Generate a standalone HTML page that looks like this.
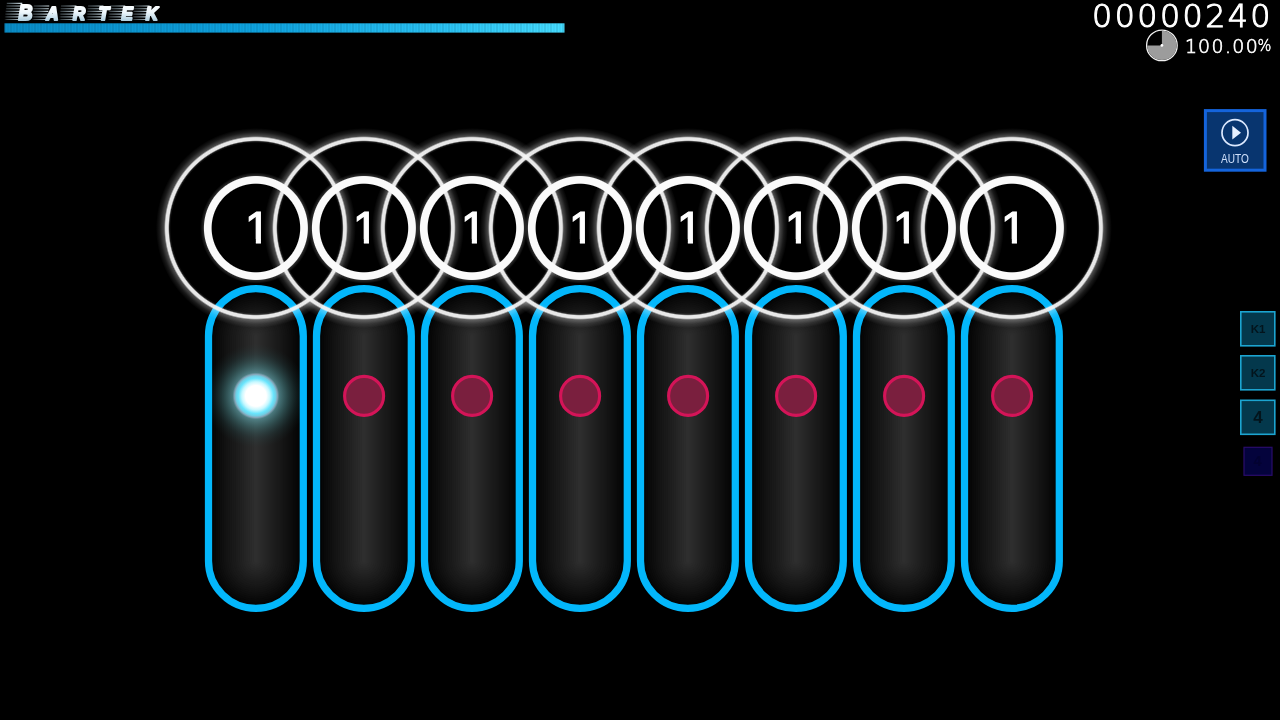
<!DOCTYPE html>
<html lang="en"><head><meta charset="utf-8"><title>osu! - Bartek</title>
<style>
html,body{margin:0;padding:0;background:#000;}
body{width:1280px;height:720px;overflow:hidden;position:relative;font-family:"Liberation Sans",sans-serif;}
svg{position:absolute;left:0;top:0;will-change:transform;}
text{font-family:"Liberation Sans",sans-serif;}
.score{font-family:"DejaVu Sans Light","DejaVu Sans","Liberation Sans",sans-serif;font-weight:200;fill:#fff;stroke:#fff;}
.num{font-family:"Liberation Sans",sans-serif;fill:#fff;stroke:#fff;stroke-width:1.2px;stroke-linejoin:miter;}
.logo{font-family:"Liberation Sans",sans-serif;font-weight:bold;font-style:italic;}
.key{font-family:"Liberation Sans",sans-serif;font-weight:bold;fill:#03141c;}
.auto{font-family:"Liberation Sans",sans-serif;fill:#cfe0fb;}
</style></head><body>
<svg width="1280" height="720" viewBox="0 0 1280 720">
<defs>
<linearGradient id="hp" x1="0" y1="0" x2="1" y2="0"><stop offset="0" stop-color="#0a8cc6"/><stop offset="0.45" stop-color="#0ea2de"/><stop offset="0.8" stop-color="#2cc4f4"/><stop offset="1" stop-color="#46dcff"/></linearGradient>
<pattern id="seg" x="4.5" y="0" width="6" height="12" patternUnits="userSpaceOnUse"><rect x="0" y="0" width="1" height="12" fill="#002840" fill-opacity="0.22"/><rect x="3" y="0" width="1" height="12" fill="#002840" fill-opacity="0.1"/></pattern>
<linearGradient id="lg" x1="0" y1="-17" x2="0" y2="0.6" gradientUnits="userSpaceOnUse"><stop offset="0" stop-color="#ffffff"/><stop offset="0.55" stop-color="#eef7fc"/><stop offset="1" stop-color="#b4d2e2"/></linearGradient>
<linearGradient id="st" x1="0" y1="0" x2="1" y2="0"><stop offset="0" stop-color="#bfe0f0" stop-opacity="0"/><stop offset="0.15" stop-color="#c8e6f4" stop-opacity="0.3"/><stop offset="0.6" stop-color="#d4ecf8" stop-opacity="0.6"/><stop offset="1" stop-color="#e8f6fc" stop-opacity="0.95"/></linearGradient>
<radialGradient id="ac" gradientUnits="userSpaceOnUse" cx="0" cy="0" r="100">
<stop offset="0.85" stop-color="#fff" stop-opacity="0"/><stop offset="0.864" stop-color="#fff" stop-opacity="0.1"/><stop offset="0.877" stop-color="#f4f4f4" stop-opacity="0.95"/><stop offset="0.903" stop-color="#f4f4f4" stop-opacity="0.95"/><stop offset="0.918" stop-color="#fff" stop-opacity="0.3"/><stop offset="0.96" stop-color="#fff" stop-opacity="0.1"/><stop offset="1" stop-color="#fff" stop-opacity="0"/></radialGradient>
<radialGradient id="hc" gradientUnits="userSpaceOnUse" cx="0" cy="0" r="57">
<stop offset="0.768" stop-color="#fff" stop-opacity="0"/><stop offset="0.786" stop-color="#fafafa" stop-opacity="1"/><stop offset="0.903" stop-color="#fafafa" stop-opacity="1"/><stop offset="0.921" stop-color="#fff" stop-opacity="0.16"/><stop offset="0.975" stop-color="#fff" stop-opacity="0"/></radialGradient>
<radialGradient id="ball"><stop offset="0" stop-color="#ffffff"/><stop offset="0.2" stop-color="#ffffff"/><stop offset="0.27" stop-color="#c8f8ff"/><stop offset="0.34" stop-color="#68e4fc"/><stop offset="0.385" stop-color="#74d4ea" stop-opacity="0.96"/><stop offset="0.415" stop-color="#9cc4dc" stop-opacity="0.8"/><stop offset="0.45" stop-color="#68b4bc" stop-opacity="0.6"/><stop offset="0.6" stop-color="#4c9498" stop-opacity="0.42"/><stop offset="0.8" stop-color="#306468" stop-opacity="0.19"/><stop offset="1" stop-color="#204040" stop-opacity="0"/></radialGradient>
<clipPath id="one"><path d="M-6-40H30V-4.3H15.85V3H10.75V-4.3H-6Z"/></clipPath>
</defs>

<g stroke-linecap="round" fill="none">
<path d="M255.9 335.9V561.0M363.9 335.9V561.0M471.9 335.9V561.0M579.9 335.9V561.0M687.9 335.9V561.0M795.9 335.9V561.0M903.9 335.9V561.0M1011.9 335.9V561.0" stroke="#050505" stroke-width="88"/>
<path d="M255.9 335.9V561.0M363.9 335.9V561.0M471.9 335.9V561.0M579.9 335.9V561.0M687.9 335.9V561.0M795.9 335.9V561.0M903.9 335.9V561.0M1011.9 335.9V561.0" stroke="#070707" stroke-width="84"/>
<path d="M255.9 335.9V561.0M363.9 335.9V561.0M471.9 335.9V561.0M579.9 335.9V561.0M687.9 335.9V561.0M795.9 335.9V561.0M903.9 335.9V561.0M1011.9 335.9V561.0" stroke="#090909" stroke-width="80"/>
<path d="M255.9 335.9V561.0M363.9 335.9V561.0M471.9 335.9V561.0M579.9 335.9V561.0M687.9 335.9V561.0M795.9 335.9V561.0M903.9 335.9V561.0M1011.9 335.9V561.0" stroke="#0b0b0b" stroke-width="76"/>
<path d="M255.9 335.9V561.0M363.9 335.9V561.0M471.9 335.9V561.0M579.9 335.9V561.0M687.9 335.9V561.0M795.9 335.9V561.0M903.9 335.9V561.0M1011.9 335.9V561.0" stroke="#0d0d0d" stroke-width="72"/>
<path d="M255.9 335.9V561.0M363.9 335.9V561.0M471.9 335.9V561.0M579.9 335.9V561.0M687.9 335.9V561.0M795.9 335.9V561.0M903.9 335.9V561.0M1011.9 335.9V561.0" stroke="#0f0f0f" stroke-width="68"/>
<path d="M255.9 335.9V561.0M363.9 335.9V561.0M471.9 335.9V561.0M579.9 335.9V561.0M687.9 335.9V561.0M795.9 335.9V561.0M903.9 335.9V561.0M1011.9 335.9V561.0" stroke="#111111" stroke-width="64"/>
<path d="M255.9 335.9V561.0M363.9 335.9V561.0M471.9 335.9V561.0M579.9 335.9V561.0M687.9 335.9V561.0M795.9 335.9V561.0M903.9 335.9V561.0M1011.9 335.9V561.0" stroke="#131313" stroke-width="60"/>
<path d="M255.9 335.9V561.0M363.9 335.9V561.0M471.9 335.9V561.0M579.9 335.9V561.0M687.9 335.9V561.0M795.9 335.9V561.0M903.9 335.9V561.0M1011.9 335.9V561.0" stroke="#151515" stroke-width="56"/>
<path d="M255.9 335.9V561.0M363.9 335.9V561.0M471.9 335.9V561.0M579.9 335.9V561.0M687.9 335.9V561.0M795.9 335.9V561.0M903.9 335.9V561.0M1011.9 335.9V561.0" stroke="#171717" stroke-width="52"/>
<path d="M255.9 335.9V561.0M363.9 335.9V561.0M471.9 335.9V561.0M579.9 335.9V561.0M687.9 335.9V561.0M795.9 335.9V561.0M903.9 335.9V561.0M1011.9 335.9V561.0" stroke="#191919" stroke-width="48"/>
<path d="M255.9 335.9V561.0M363.9 335.9V561.0M471.9 335.9V561.0M579.9 335.9V561.0M687.9 335.9V561.0M795.9 335.9V561.0M903.9 335.9V561.0M1011.9 335.9V561.0" stroke="#1a1a1a" stroke-width="44"/>
<path d="M255.9 335.9V561.0M363.9 335.9V561.0M471.9 335.9V561.0M579.9 335.9V561.0M687.9 335.9V561.0M795.9 335.9V561.0M903.9 335.9V561.0M1011.9 335.9V561.0" stroke="#1c1c1c" stroke-width="40"/>
<path d="M255.9 335.9V561.0M363.9 335.9V561.0M471.9 335.9V561.0M579.9 335.9V561.0M687.9 335.9V561.0M795.9 335.9V561.0M903.9 335.9V561.0M1011.9 335.9V561.0" stroke="#1e1e1e" stroke-width="36"/>
<path d="M255.9 335.9V561.0M363.9 335.9V561.0M471.9 335.9V561.0M579.9 335.9V561.0M687.9 335.9V561.0M795.9 335.9V561.0M903.9 335.9V561.0M1011.9 335.9V561.0" stroke="#202020" stroke-width="32"/>
<path d="M255.9 335.9V561.0M363.9 335.9V561.0M471.9 335.9V561.0M579.9 335.9V561.0M687.9 335.9V561.0M795.9 335.9V561.0M903.9 335.9V561.0M1011.9 335.9V561.0" stroke="#222222" stroke-width="28"/>
<path d="M255.9 335.9V561.0M363.9 335.9V561.0M471.9 335.9V561.0M579.9 335.9V561.0M687.9 335.9V561.0M795.9 335.9V561.0M903.9 335.9V561.0M1011.9 335.9V561.0" stroke="#242424" stroke-width="24"/>
<path d="M255.9 335.9V561.0M363.9 335.9V561.0M471.9 335.9V561.0M579.9 335.9V561.0M687.9 335.9V561.0M795.9 335.9V561.0M903.9 335.9V561.0M1011.9 335.9V561.0" stroke="#262626" stroke-width="20"/>
<path d="M255.9 335.9V561.0M363.9 335.9V561.0M471.9 335.9V561.0M579.9 335.9V561.0M687.9 335.9V561.0M795.9 335.9V561.0M903.9 335.9V561.0M1011.9 335.9V561.0" stroke="#282828" stroke-width="16"/>
<path d="M255.9 335.9V561.0M363.9 335.9V561.0M471.9 335.9V561.0M579.9 335.9V561.0M687.9 335.9V561.0M795.9 335.9V561.0M903.9 335.9V561.0M1011.9 335.9V561.0" stroke="#2a2a2a" stroke-width="12"/>
<path d="M255.9 335.9V561.0M363.9 335.9V561.0M471.9 335.9V561.0M579.9 335.9V561.0M687.9 335.9V561.0M795.9 335.9V561.0M903.9 335.9V561.0M1011.9 335.9V561.0" stroke="#2c2c2c" stroke-width="8"/>
<path d="M255.9 335.9V561.0M363.9 335.9V561.0M471.9 335.9V561.0M579.9 335.9V561.0M687.9 335.9V561.0M795.9 335.9V561.0M903.9 335.9V561.0M1011.9 335.9V561.0" stroke="#2e2e2e" stroke-width="4"/>
</g>
<circle cx="255.9" cy="395.9" r="52" fill="url(#ball)"/>
<circle cx="364.1" cy="395.9" r="19.5" fill="#7a1f3e" stroke="#d41458" stroke-width="3.1"/>
<circle cx="472.1" cy="395.9" r="19.5" fill="#7a1f3e" stroke="#d41458" stroke-width="3.1"/>
<circle cx="580.1" cy="395.9" r="19.5" fill="#7a1f3e" stroke="#d41458" stroke-width="3.1"/>
<circle cx="688.1" cy="395.9" r="19.5" fill="#7a1f3e" stroke="#d41458" stroke-width="3.1"/>
<circle cx="796.1" cy="395.9" r="19.5" fill="#7a1f3e" stroke="#d41458" stroke-width="3.1"/>
<circle cx="904.1" cy="395.9" r="19.5" fill="#7a1f3e" stroke="#d41458" stroke-width="3.1"/>
<circle cx="1012.1" cy="395.9" r="19.5" fill="#7a1f3e" stroke="#d41458" stroke-width="3.1"/>
<g fill="none" stroke="#03b7fb" stroke-width="7.25">
<rect x="208.5" y="288.5" width="94.8" height="319.9" rx="47.4"/>
<rect x="316.5" y="288.5" width="94.8" height="319.9" rx="47.4"/>
<rect x="424.5" y="288.5" width="94.8" height="319.9" rx="47.4"/>
<rect x="532.5" y="288.5" width="94.8" height="319.9" rx="47.4"/>
<rect x="640.5" y="288.5" width="94.8" height="319.9" rx="47.4"/>
<rect x="748.5" y="288.5" width="94.8" height="319.9" rx="47.4"/>
<rect x="856.5" y="288.5" width="94.8" height="319.9" rx="47.4"/>
<rect x="964.5" y="288.5" width="94.8" height="319.9" rx="47.4"/>
</g>
<circle transform="translate(255.9 228)" r="100" fill="url(#ac)"/>
<circle transform="translate(363.9 228)" r="100" fill="url(#ac)"/>
<circle transform="translate(471.9 228)" r="100" fill="url(#ac)"/>
<circle transform="translate(579.9 228)" r="100" fill="url(#ac)"/>
<circle transform="translate(687.9 228)" r="100" fill="url(#ac)"/>
<circle transform="translate(795.9 228)" r="100" fill="url(#ac)"/>
<circle transform="translate(903.9 228)" r="100" fill="url(#ac)"/>
<circle transform="translate(1011.9 228)" r="100" fill="url(#ac)"/>
<circle transform="translate(255.9 228)" r="57" fill="url(#hc)"/>
<circle transform="translate(363.9 228)" r="57" fill="url(#hc)"/>
<circle transform="translate(471.9 228)" r="57" fill="url(#hc)"/>
<circle transform="translate(579.9 228)" r="57" fill="url(#hc)"/>
<circle transform="translate(687.9 228)" r="57" fill="url(#hc)"/>
<circle transform="translate(795.9 228)" r="57" fill="url(#hc)"/>
<circle transform="translate(903.9 228)" r="57" fill="url(#hc)"/>
<circle transform="translate(1011.9 228)" r="57" fill="url(#hc)"/>
<g transform="translate(245.1 243.2)"><text class="num" font-size="45" clip-path="url(#one)">1</text></g>
<g transform="translate(353.1 243.2)"><text class="num" font-size="45" clip-path="url(#one)">1</text></g>
<g transform="translate(461.1 243.2)"><text class="num" font-size="45" clip-path="url(#one)">1</text></g>
<g transform="translate(569.1 243.2)"><text class="num" font-size="45" clip-path="url(#one)">1</text></g>
<g transform="translate(677.1 243.2)"><text class="num" font-size="45" clip-path="url(#one)">1</text></g>
<g transform="translate(785.1 243.2)"><text class="num" font-size="45" clip-path="url(#one)">1</text></g>
<g transform="translate(893.1 243.2)"><text class="num" font-size="45" clip-path="url(#one)">1</text></g>
<g transform="translate(1001.1 243.2)"><text class="num" font-size="45" clip-path="url(#one)">1</text></g>
<rect x="4.5" y="23.3" width="560" height="9.3" fill="url(#hp)"/><rect x="4.5" y="23.3" width="560" height="9.3" fill="url(#seg)"/>
<path d="M6.77 3.30H22.27M6.34 6.00H21.84M5.90 8.70H21.40M5.47 11.40H20.97M5.04 14.10H20.54M4.61 16.80H20.11M4.18 19.50H19.68" stroke="url(#st)" stroke-width="1.15" fill="none"/>
<path d="M33.74 6.00H49.24M33.30 8.70H48.80M32.87 11.40H48.37M32.44 14.10H47.94M32.01 16.80H47.51M31.58 19.50H47.08" stroke="url(#st)" stroke-width="1.15" fill="none"/>
<path d="M60.94 6.00H76.44M60.50 8.70H76.00M60.07 11.40H75.57M59.64 14.10H75.14M59.21 16.80H74.71M58.78 19.50H74.28" stroke="url(#st)" stroke-width="1.15" fill="none"/>
<path d="M87.94 6.00H103.44M87.50 8.70H103.00M87.07 11.40H102.57M86.64 14.10H102.14M86.21 16.80H101.71M85.78 19.50H101.28" stroke="url(#st)" stroke-width="1.15" fill="none"/>
<path d="M109.74 6.00H125.24M109.30 8.70H124.80M108.87 11.40H124.37M108.44 14.10H123.94M108.01 16.80H123.51M107.58 19.50H123.08" stroke="url(#st)" stroke-width="1.15" fill="none"/>
<path d="M134.14 6.00H149.64M133.70 8.70H149.20M133.27 11.40H148.77M132.84 14.10H148.34M132.41 16.80H147.91M131.98 19.50H147.48" stroke="url(#st)" stroke-width="1.15" fill="none"/>
<text class="logo" transform="translate(0,19.6) scale(0.9,1)" fill="url(#lg)" stroke="url(#lg)" stroke-width="2.2" stroke-linejoin="round"><tspan font-size="21.5" x="20.44">B</tspan><tspan font-size="18.7" x="51.44 81.00 109.78 134.89 162.00">ARTEK</tspan></text>
<text class="score" transform="translate(1092.1,27.05) scale(0.973,1)" font-size="32.6" letter-spacing="2.5" stroke-width="1.1">00000240</text>
<text class="score" transform="translate(1185.0,52.6) scale(0.987,1)" font-size="19.2" stroke-width="0.7" letter-spacing="1.45" x="0 13.14">100.00</text>
<text class="score" transform="translate(1257.6,51) scale(0.88,1)" font-size="16.6" stroke-width="0.5">%</text>
<circle cx="1161.9" cy="45.4" r="15.3" fill="#000" stroke="#f0f0f0" stroke-width="1.3"/>
<path d="M1161.9 45.4V30.7A14.7 14.7 0 1 1 1147.2 45.4Z" fill="#9c9c9c"/>
<circle cx="1161.9" cy="45.4" r="1.4" fill="#fff"/>
<rect x="1205.4" y="110.6" width="59.6" height="59.6" fill="#08356f" stroke="#1464dc" stroke-width="3"/>
<circle cx="1235" cy="132.7" r="13" fill="none" stroke="#dce9ff" stroke-width="1.7"/>
<path d="M1232.3 125.8L1241 132.7L1232.3 139.6Z" fill="#e6efff"/>
<text class="auto" transform="translate(1235,163) scale(0.8,1)" font-size="12.6" text-anchor="middle">AUTO</text>
<rect x="1240.8" y="311.8" width="34" height="34" fill="#04384c" stroke="#1ca4d0" stroke-width="1.6"/>
<text class="key" x="1258" y="333.2" font-size="11.5" text-anchor="middle">K1</text>
<rect x="1240.8" y="355.8" width="34" height="34" fill="#04384c" stroke="#1ca4d0" stroke-width="1.6"/>
<text class="key" x="1258" y="377.2" font-size="11.5" text-anchor="middle">K2</text>
<rect x="1240.8" y="400.3" width="34" height="34" fill="#04384c" stroke="#1ca4d0" stroke-width="1.6"/>
<text class="key" x="1258" y="423.3" font-size="17" text-anchor="middle">4</text>
<rect x="1244" y="447.3" width="28" height="28" fill="#04033c" stroke="#2a0c6c" stroke-width="1.2"/>
<text class="key" x="1257.6" y="465.7" font-size="14.5" text-anchor="middle" style="fill:#030230">4</text>
</svg></body></html>
